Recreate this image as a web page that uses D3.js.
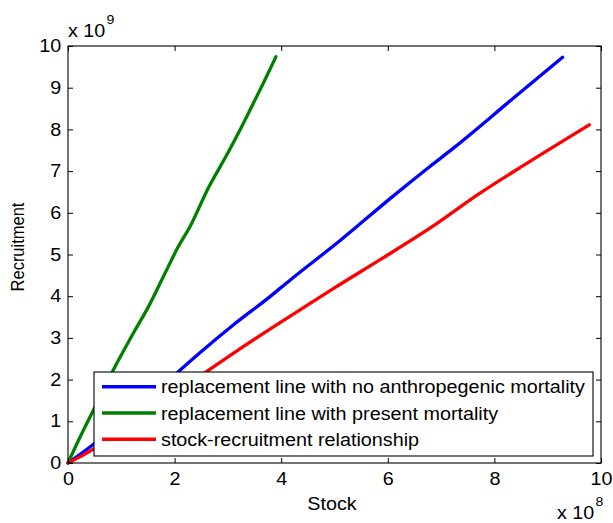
<!DOCTYPE html>
<html>
<head>
<meta charset="utf-8">
<script src="https://cdn.jsdelivr.net/npm/d3@7"></script>
<style>
  html, body { margin: 0; padding: 0; background: #fff; }
  svg { display: block; font-family: Arial, "Liberation Sans", Helvetica, sans-serif; }
</style>
</head>
<body>
<svg id="chart" width="613" height="523"></svg>
<script>
// Stock in units of 1e8, recruitment in units of 1e9
const greenStock = [0, 0.2, 0.45, 0.85, 1.225, 1.51, 1.79, 2.07, 2.29, 2.63, 2.98, 3.26, 3.51, 3.68, 3.9];
const greenRecruit = [0, 0.55, 1.2, 2.23, 3.11, 3.75, 4.47, 5.19, 5.67, 6.59, 7.39, 8.07, 8.71, 9.15, 9.74];

const blueStock = [0, 0.45, 1.0, 2.07, 2.48, 3.10, 3.79, 4.17, 5.10, 6.10, 6.79, 7.23, 8.32, 9.28];
const blueRecruit = [0, 0.42, 0.98, 2.19, 2.65, 3.31, 3.99, 4.39, 5.33, 6.40, 7.11, 7.55, 8.71, 9.73];

const redStock = [0, 0.3, 0.5, 1.0, 2.60, 3.10, 3.79, 4.17, 5.0, 5.85, 6.79, 7.73, 8.5, 9.78];
const redRecruit = [0, 0.2, 0.35, 0.8, 2.19, 2.63, 3.21, 3.52, 4.2, 4.87, 5.63, 6.47, 7.1, 8.11];

const xTicks = [0, 2, 4, 6, 8, 10];
const yTicks = [0, 1, 2, 3, 4, 5, 6, 7, 8, 9, 10];

const seriesNames = [
  "replacement line with no anthropegenic mortality",
  "replacement line with present mortality",
  "stock-recruitment relationship"
];
const seriesColors = ["#0000ff", "#008000", "#ff0000"];

const series = [
  { name: seriesNames[0], color: seriesColors[0], xs: blueStock, ys: blueRecruit },
  { name: seriesNames[1], color: seriesColors[1], xs: greenStock, ys: greenRecruit },
  { name: seriesNames[2], color: seriesColors[2], xs: redStock, ys: redRecruit }
];

const svg = d3.select("#chart");
const pLeft = 68, pRight = 601, pTop = 46, pBottom = 463;

const x = d3.scaleLinear().domain([0, 10]).range([pLeft, pRight]);
const y = d3.scaleLinear().domain([0, 10]).range([pBottom, pTop]);

// glyphs are set slightly wide
const fontSize = 17.5;
const stretch = 1.13;

// data lines (drawn first so the frame sits on top)
const line = d3.line().curve(d3.curveMonotoneX).x(d => x(d[0])).y(d => y(d[1]));
const plot = svg.append("g");
series.forEach(s => {
  const pts = s.xs.map((v, i) => [v, s.ys[i]]);
  plot.append("path")
    .attr("d", line(pts))
    .attr("fill", "none")
    .attr("stroke", s.color)
    .attr("stroke-width", 3.3)
    .attr("stroke-linejoin", "round")
    .attr("stroke-linecap", "round");
});

// axes with inward ticks on all four sides
const tickLen = 5;
const bottomAxis = d3.axisBottom(x).tickValues(xTicks).tickSize(-tickLen).tickPadding(10).tickFormat(d3.format("d"));
const topAxis = d3.axisTop(x).tickValues(xTicks).tickSize(-tickLen).tickFormat("");
const leftAxis = d3.axisLeft(y).tickValues(yTicks).tickSize(-tickLen).tickPadding(6).tickFormat(d3.format("d"));
const rightAxis = d3.axisRight(y).tickValues(yTicks).tickSize(-tickLen).tickFormat("");

function styleAxis(g) {
  g.select(".domain").remove();
  g.selectAll(".tick line").attr("stroke", "#000").attr("stroke-width", 1);
  g.selectAll(".tick text").attr("fill", "#000").style("font-size", fontSize + "px")
    .style("font-family", "Arial, 'Liberation Sans', sans-serif")
    .attr("transform", `scale(${stretch},1)`);
}

svg.append("g").attr("transform", `translate(0,${pBottom})`).call(bottomAxis).call(styleAxis);
svg.append("g").attr("transform", `translate(0,${pTop})`).call(topAxis).call(styleAxis);
svg.append("g").attr("transform", `translate(${pLeft},0)`).call(leftAxis).call(styleAxis);
svg.append("g").attr("transform", `translate(${pRight},0)`).call(rightAxis).call(styleAxis);

// frame
svg.append("rect")
  .attr("x", pLeft).attr("y", pTop)
  .attr("width", pRight - pLeft).attr("height", pBottom - pTop)
  .attr("fill", "none").attr("stroke", "#000").attr("stroke-width", 1.1);

// horizontal text helper
function label(px, py, anchor) {
  return svg.append("text")
    .attr("transform", `translate(${px},${py}) scale(${stretch},1)`)
    .attr("text-anchor", anchor || "start")
    .style("font-size", fontSize + "px").attr("fill", "#000");
}

// exponent labels
const yExp = label(pLeft, 37);
yExp.append("tspan").text("x 10");
yExp.append("tspan").attr("dx", 1).attr("dy", -13).style("font-size", "12.5px").text("9");

const xExp = label(557, 519);
xExp.append("tspan").text("x 10");
xExp.append("tspan").attr("dx", 1).attr("dy", -13).style("font-size", "12.5px").text("8");

// axis titles
label(332, 510, "middle").text("Stock");

svg.append("text")
  .attr("transform", `translate(24,247) rotate(-90) scale(1,${stretch})`)
  .attr("text-anchor", "middle")
  .style("font-size", "16.5px").attr("fill", "#000")
  .text("Recruitment");

// legend
const lg = svg.append("g");
const lgX = 94, lgY = 372, lgW = 499, lgH = 84;
lg.append("rect")
  .attr("x", lgX).attr("y", lgY).attr("width", lgW).attr("height", lgH)
  .attr("fill", "#fff").attr("stroke", "#000").attr("stroke-width", 1.1);
series.forEach((s, i) => {
  const cy = lgY + 14.7 + i * 26.3;
  lg.append("line")
    .attr("x1", lgX + 8).attr("x2", lgX + 62)
    .attr("y1", cy).attr("y2", cy)
    .attr("stroke", s.color).attr("stroke-width", 3.5);
  lg.append("text")
    .attr("transform", `translate(${lgX + 67},${cy + 6.5}) scale(${stretch},1)`)
    .style("font-size", fontSize + "px").attr("fill", "#000")
    .text(s.name);
});
</script>
</body>
</html>
